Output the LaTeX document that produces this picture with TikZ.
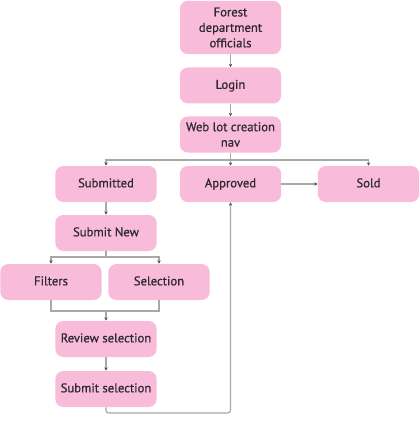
\documentclass[tikz,border=0pt]{standalone}
\usepackage{fontspec}
\setmainfont{PT Sans}[FakeBold=0.7]
\usetikzlibrary{arrows.meta}
\definecolor{boxpink}{HTML}{F8BBD9}
\definecolor{boxtext}{HTML}{2E2A30}
\definecolor{linegray}{HTML}{A8A8A8}
\begin{document}
\begin{tikzpicture}[x=0.75pt,y=-0.75pt,
  box/.style={draw=none,fill=boxpink,rounded corners=6pt,minimum width=76pt,minimum height=27pt,
    text=boxtext,align=center,font=\fontsize{9.5}{11.6}\selectfont,inner sep=1pt,
    text height=7pt,text depth=2pt},
  multibox/.style={box,text height={},text depth={}},
  tallbox/.style={multibox,minimum height=40pt},
  conn/.style={draw=linegray,line width=0.9pt},
  arr/.style={conn,-{Stealth[length=2.5pt,width=2.5pt,color=black!70]}}]
\useasboundingbox (0,0) rectangle (419,424);
\node[tallbox] (forest) at (230.5,27.5) {Forest\\department\\officials};
\node[box] (login) at (230.5,85.5) {Login};
\node[multibox] (web) at (230.5,134.5) {Web lot creation\\nav};
\node[box] (submitted) at (106,184) {Submitted};
\node[box] (approved) at (230.5,184) {Approved};
\node[box] (sold) at (368.5,184) {Sold};
\node[box] (submitnew) at (106,233) {Submit New};
\node[box] (filters) at (51,282) {Filters};
\node[box] (selection) at (159,282) {Selection};
\node[box] (review) at (106,339) {Review selection};
\node[box] (submitsel) at (106,389) {Submit selection};
\coordinate (wsplit) at (230.5,160);
\coordinate (nsplit) at (106,257);
\coordinate (fjoin) at (106,311);
\coordinate (loopbl) at (106,413);
\coordinate (loopbr) at (230.5,413);
\draw[arr] (forest) -- (login);
\draw[arr] (login) -- (web);
\draw[conn] (web) -- (wsplit);
\draw[arr] (wsplit) -| (submitted);
\draw[arr] (wsplit) -- (approved);
\draw[arr] (wsplit) -| (sold);
\draw[arr] (approved) -- (sold);
\draw[arr] (submitted) -- (submitnew);
\draw[conn] (submitnew) -- (nsplit);
\draw[arr] (nsplit) -| (filters);
\draw[arr] (nsplit) -| (selection);
\draw[conn] (filters.south) |- (fjoin);
\draw[conn] (selection.south) |- (fjoin);
\draw[arr] (fjoin) -- (review);
\draw[arr] (review) -- (submitsel);
\draw[arr,rounded corners=2pt] (submitsel.south) -- (loopbl) -- (loopbr) -- (approved.south);
\end{tikzpicture}
\end{document}
